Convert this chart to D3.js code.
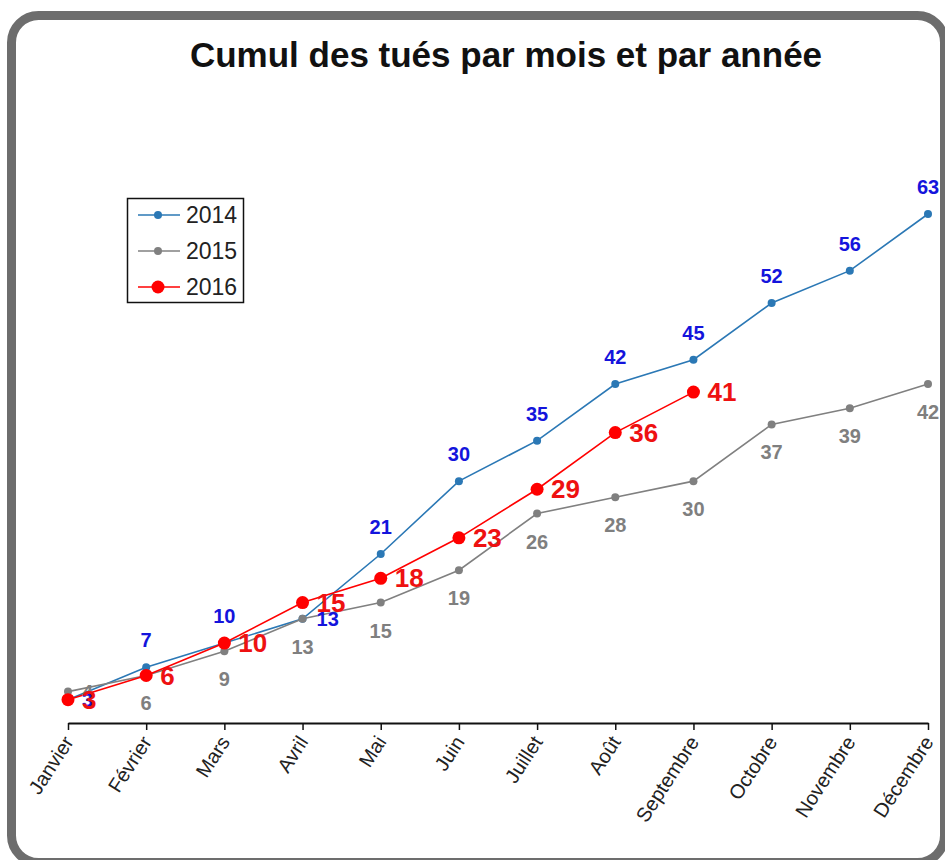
<!DOCTYPE html>
<html>
<head>
<meta charset="utf-8">
<script src="https://cdn.jsdelivr.net/npm/d3@7"></script>
<style>
  body { margin: 0; background: #fff; }
  text { font-family: "Liberation Sans", Arial, sans-serif; }
</style>
</head>
<body>
<script>
// données
const mois = ["Janvier", "Février", "Mars", "Avril", "Mai", "Juin", "Juillet",
  "Août", "Septembre", "Octobre", "Novembre", "Décembre"];
const tues2014 = [3, 7, 10, 13, 21, 30, 35, 42, 45, 52, 56, 63];
const tues2015 = [4, 6, 9, 13, 15, 19, 26, 28, 30, 37, 39, 42];
const tues2016 = [3, 6, 10, 15, 18, 23, 29, 36, 41];

const W = 945, H = 860;

const svg = d3.select("body").append("svg")
  .attr("width", W)
  .attr("height", H);

// cadre arrondi
svg.append("rect")
  .attr("x", 11.5).attr("y", 15.5)
  .attr("width", 933).attr("height", 847)
  .attr("rx", 27).attr("ry", 27)
  .attr("fill", "#fff")
  .attr("stroke", "#6d6d6d")
  .attr("stroke-width", 9);

// titre
svg.append("text")
  .attr("x", 506).attr("y", 67)
  .attr("text-anchor", "middle")
  .attr("font-size", 35)
  .attr("font-weight", "bold")
  .attr("fill", "#111")
  .text("Cumul des tués par mois et par année");

const x = d3.scalePoint().domain(mois).range([68, 928]);
const y = d3.scaleLinear().domain([0, 63]).range([724, 214]);

// axe des x
const axe = svg.append("g")
  .attr("transform", "translate(0,723)")
  .call(d3.axisBottom(x).tickSize(7).tickSizeOuter(0));
axe.select(".domain").attr("stroke", "#111").attr("stroke-width", 2);
axe.selectAll(".tick line").attr("stroke", "#111").attr("stroke-width", 1.5);
axe.selectAll(".tick text")
  .attr("font-size", 20)
  .attr("fill", "#222")
  .attr("text-anchor", "end")
  .attr("transform", "translate(0,15) rotate(-57)")
  .attr("x", 0).attr("y", 0).attr("dy", "0.35em");

const ligne = d3.line()
  .x((d, i) => x(mois[i]))
  .y(d => y(d));

const series = [
  { annee: "2014", valeurs: tues2014, couleur: "#2b78b5", r: 4, texte: "#1414dc", taille: 20 },
  { annee: "2015", valeurs: tues2015, couleur: "#808080", r: 4, texte: "#7f7f7f", taille: 20 },
  { annee: "2016", valeurs: tues2016, couleur: "#ff0000", r: 6.5, texte: "#ee1111", taille: 26 }
];

series.forEach(s => {
  svg.append("path")
    .datum(s.valeurs)
    .attr("fill", "none")
    .attr("stroke", s.couleur)
    .attr("stroke-width", 1.6)
    .attr("d", ligne);

  svg.selectAll(null)
    .data(s.valeurs)
    .join("circle")
    .attr("cx", (d, i) => x(mois[i]))
    .attr("cy", d => y(d))
    .attr("r", s.r)
    .attr("fill", s.couleur);
});

// étiquettes de valeurs
function etiquettes(s, pos) {
  svg.selectAll(null)
    .data(s.valeurs)
    .join("text")
    .attr("font-size", s.taille)
    .attr("font-weight", "bold")
    .attr("fill", s.texte)
    .each(function (d, i) {
      const p = pos(i);
      const t = d3.select(this);
      if (p === "droite") {
        t.attr("x", x(mois[i]) + 14).attr("y", y(d)).attr("dy", "0.35em")
          .attr("text-anchor", "start");
      } else if (p === "dessus") {
        t.attr("x", x(mois[i])).attr("y", y(d) - 20).attr("text-anchor", "middle");
      } else {
        t.attr("x", x(mois[i])).attr("y", y(d) + 35).attr("text-anchor", "middle");
      }
    })
    .text(d => d);
}

etiquettes(series[1], i => i === 0 ? "droite" : "dessous");
etiquettes(series[0], i => (i === 0 || i === 3) ? "droite" : "dessus");
etiquettes(series[2], () => "droite");

// légende
const leg = svg.append("g");
leg.append("rect")
  .attr("x", 127.5).attr("y", 198.5)
  .attr("width", 116).attr("height", 104)
  .attr("fill", "#fff")
  .attr("stroke", "#111")
  .attr("stroke-width", 1.5);

series.forEach((s, i) => {
  const ly = 215 + i * 36;
  leg.append("line")
    .attr("x1", 138).attr("x2", 180)
    .attr("y1", ly).attr("y2", ly)
    .attr("stroke", s.couleur)
    .attr("stroke-width", 1.6);
  leg.append("circle")
    .attr("cx", 158).attr("cy", ly)
    .attr("r", s.r)
    .attr("fill", s.couleur);
  leg.append("text")
    .attr("x", 186).attr("y", ly).attr("dy", "0.36em")
    .attr("font-size", 23)
    .attr("fill", "#222")
    .text(s.annee);
});
</script>
</body>
</html>
